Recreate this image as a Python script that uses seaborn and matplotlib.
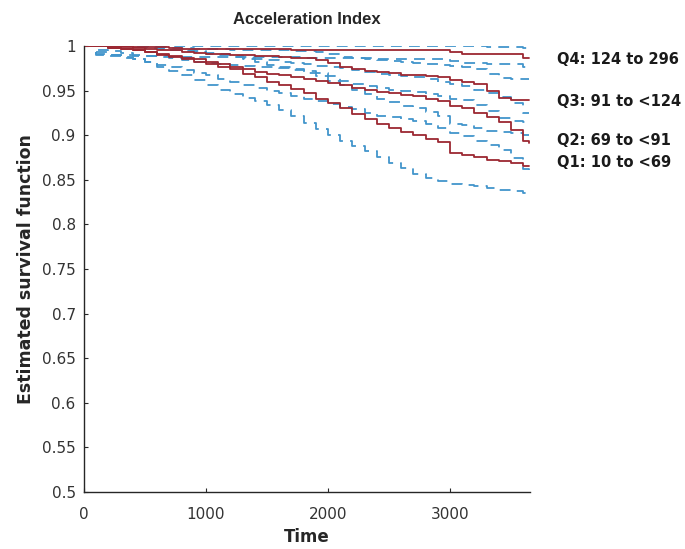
import matplotlib
matplotlib.use('Agg')
import matplotlib.pyplot as plt
import seaborn as sns
import pandas as pd

# shared time grid (event steps)
time = [0, 100, 200, 300, 400, 500, 600, 700, 800, 900, 1000, 1100, 1200, 1300, 1400, 1500,
        1600, 1700, 1800, 1900, 2000, 2100, 2200, 2300, 2400, 2500, 2600, 2700, 2800, 2900,
        3000, 3100, 3200, 3300, 3400, 3500, 3600, 3650]

q1_est = [1.000, 1.000, 0.998, 0.997, 0.995, 0.993, 0.990, 0.988, 0.985, 0.982, 0.980, 0.977, 0.974,
          0.969, 0.965, 0.960, 0.956, 0.952, 0.947, 0.941, 0.936, 0.930, 0.924, 0.918, 0.913, 0.908,
          0.904, 0.900, 0.896, 0.892, 0.880, 0.878, 0.876, 0.872, 0.871, 0.869, 0.866, 0.866]
q1_low = [1.000, 0.991, 0.989, 0.987, 0.985, 0.982, 0.977, 0.972, 0.967, 0.962, 0.956, 0.951, 0.946,
          0.942, 0.938, 0.934, 0.928, 0.921, 0.914, 0.907, 0.900, 0.894, 0.888, 0.882, 0.876, 0.869,
          0.863, 0.857, 0.852, 0.849, 0.845, 0.844, 0.843, 0.841, 0.839, 0.837, 0.835, 0.835]
q1_up = [1.000, 1.000, 1.000, 1.000, 0.999, 0.998, 0.997, 0.996, 0.994, 0.993, 0.991, 0.990, 0.988,
         0.985, 0.982, 0.979, 0.976, 0.973, 0.970, 0.966, 0.961, 0.956, 0.951, 0.946, 0.941, 0.937,
         0.933, 0.930, 0.926, 0.922, 0.913, 0.911, 0.908, 0.905, 0.904, 0.902, 0.900, 0.900]

q2_est = [1.000, 1.000, 0.998, 0.997, 0.995, 0.993, 0.991, 0.989, 0.987, 0.985, 0.982, 0.980, 0.977,
          0.974, 0.971, 0.969, 0.967, 0.965, 0.963, 0.961, 0.958, 0.956, 0.953, 0.951, 0.948, 0.947,
          0.945, 0.944, 0.941, 0.938, 0.933, 0.930, 0.925, 0.920, 0.915, 0.906, 0.893, 0.891]
q2_low = [1.000, 0.993, 0.990, 0.988, 0.985, 0.982, 0.979, 0.976, 0.973, 0.970, 0.967, 0.963, 0.960,
          0.956, 0.953, 0.950, 0.947, 0.944, 0.941, 0.938, 0.935, 0.932, 0.929, 0.925, 0.922, 0.920,
          0.918, 0.916, 0.912, 0.908, 0.903, 0.899, 0.894, 0.889, 0.883, 0.874, 0.862, 0.861]
q2_up = [1.000, 1.000, 1.000, 1.000, 0.999, 0.999, 0.998, 0.996, 0.995, 0.994, 0.992, 0.991, 0.989,
         0.987, 0.985, 0.984, 0.982, 0.981, 0.980, 0.978, 0.977, 0.975, 0.973, 0.971, 0.969, 0.968,
         0.966, 0.965, 0.963, 0.960, 0.957, 0.955, 0.951, 0.947, 0.943, 0.936, 0.925, 0.925]

q3_est = [1.000, 1.000, 1.000, 0.999, 0.998, 0.997, 0.996, 0.995, 0.993, 0.992, 0.991, 0.991, 0.990,
          0.990, 0.989, 0.989, 0.988, 0.987, 0.986, 0.984, 0.981, 0.977, 0.974, 0.972, 0.971, 0.970,
          0.968, 0.967, 0.966, 0.965, 0.962, 0.960, 0.957, 0.950, 0.942, 0.940, 0.940, 0.940]
q3_low = [1.000, 0.996, 0.994, 0.992, 0.990, 0.989, 0.988, 0.986, 0.984, 0.982, 0.981, 0.980, 0.979,
          0.978, 0.977, 0.977, 0.975, 0.974, 0.972, 0.970, 0.966, 0.961, 0.957, 0.955, 0.953, 0.951,
          0.949, 0.948, 0.946, 0.944, 0.941, 0.939, 0.934, 0.927, 0.919, 0.916, 0.915, 0.915]
q3_up = [1.000, 1.000, 1.000, 1.000, 1.000, 1.000, 0.999, 0.998, 0.998, 0.997, 0.997, 0.997, 0.996,
         0.996, 0.995, 0.995, 0.995, 0.994, 0.994, 0.993, 0.991, 0.988, 0.986, 0.985, 0.984, 0.983,
         0.982, 0.981, 0.980, 0.979, 0.978, 0.977, 0.974, 0.969, 0.964, 0.963, 0.963, 0.963]

q4_est = [1.000, 1.000, 1.000, 1.000, 0.999, 0.999, 0.999, 0.998, 0.997, 0.997, 0.997, 0.997, 0.997,
          0.997, 0.997, 0.997, 0.997, 0.996, 0.995, 0.995, 0.995, 0.995, 0.995, 0.995, 0.995, 0.995,
          0.995, 0.995, 0.995, 0.995, 0.993, 0.991, 0.991, 0.991, 0.991, 0.991, 0.987, 0.987]
q4_low = [1.000, 0.990, 0.990, 0.990, 0.989, 0.989, 0.989, 0.988, 0.988, 0.988, 0.988, 0.988, 0.988,
          0.988, 0.988, 0.988, 0.988, 0.988, 0.986, 0.986, 0.986, 0.986, 0.986, 0.986, 0.985, 0.985,
          0.985, 0.985, 0.985, 0.985, 0.983, 0.981, 0.981, 0.980, 0.980, 0.980, 0.977, 0.977]
q4_up = [1.000, 1.000, 1.000, 1.000, 1.000, 1.000, 1.000, 1.000, 1.000, 1.000, 1.000, 1.000, 1.000,
         1.000, 1.000, 1.000, 1.000, 1.000, 1.000, 1.000, 1.000, 1.000, 1.000, 1.000, 1.000, 1.000,
         1.000, 1.000, 1.000, 1.000, 1.000, 1.000, 1.000, 0.999, 0.999, 0.999, 0.998, 0.998]

group_labels = ["Q1: 10 to <69", "Q2: 69 to <91", "Q3: 91 to <124", "Q4: 124 to 296"]
label_y = [0.869, 0.8946, 0.9383, 0.9854]

y_ticks = [0.5, 0.55, 0.6, 0.65, 0.7, 0.75, 0.8, 0.85, 0.9, 0.95, 1]
y_tick_labels = ["0.5", "0.55", "0.6", "0.65", "0.7", "0.75", "0.8", "0.85", "0.9", "0.95", "1"]
x_ticks = [0, 1000, 2000, 3000]

RED = '#9C2832'
BLUE = '#4295CC'

sns.set_style('ticks')
plt.rcParams['font.family'] = ['DejaVu Sans']

fig = plt.figure(figsize=(6.85, 5.49), dpi=100)
ax = fig.add_axes([84 / 685, 1 - 492 / 549, (530 - 84) / 685, (492 - 46) / 549])

estimates = [q1_est, q2_est, q3_est, q4_est]
bounds = [(q1_low, q1_up), (q2_low, q2_up), (q3_low, q3_up), (q4_low, q4_up)]

# confidence bounds first, estimates on top
for low, up in bounds:
    for b in (low, up):
        df = pd.DataFrame({'time': time, 'surv': b})
        sns.lineplot(data=df, x='time', y='surv', ax=ax, color=BLUE, lw=1.3,
                     linestyle=(0, (6, 4)), drawstyle='steps-post', estimator=None)
for est in estimates:
    df = pd.DataFrame({'time': time, 'surv': est})
    sns.lineplot(data=df, x='time', y='surv', ax=ax, color=RED, lw=1.3,
                 drawstyle='steps-post', estimator=None)

for lab, ly in zip(group_labels, label_y):
    ax.text(3880, ly, lab, ha='left', va='center', fontsize=10.5, fontweight='bold',
            color='#1a1a1a', clip_on=False)

ax.set_xlim(0, 3655)
ax.set_ylim(0.5, 1.0)
ax.set_xticks(x_ticks)
ax.set_xticklabels([str(v) for v in x_ticks])
ax.set_yticks(y_ticks)
ax.set_yticklabels(y_tick_labels)
ax.tick_params(direction='in', length=3, labelsize=11, width=0.8, labelcolor='#333333')
ax.tick_params(axis='x', pad=11)
ax.tick_params(axis='y', pad=6)
for s in ['top', 'right']:
    ax.spines[s].set_visible(False)
for s in ['left', 'bottom']:
    ax.spines[s].set_linewidth(1.0)

ax.set_xlabel('Time', fontsize=12, fontweight='bold', labelpad=4)
ax.set_ylabel('Estimated survival function', fontsize=12.5, fontweight='bold', labelpad=5)
ax.set_title('Acceleration Index', fontsize=12, fontweight='bold', pad=16,
             family='Liberation Sans')

fig.savefig('out.png', dpi=100)
